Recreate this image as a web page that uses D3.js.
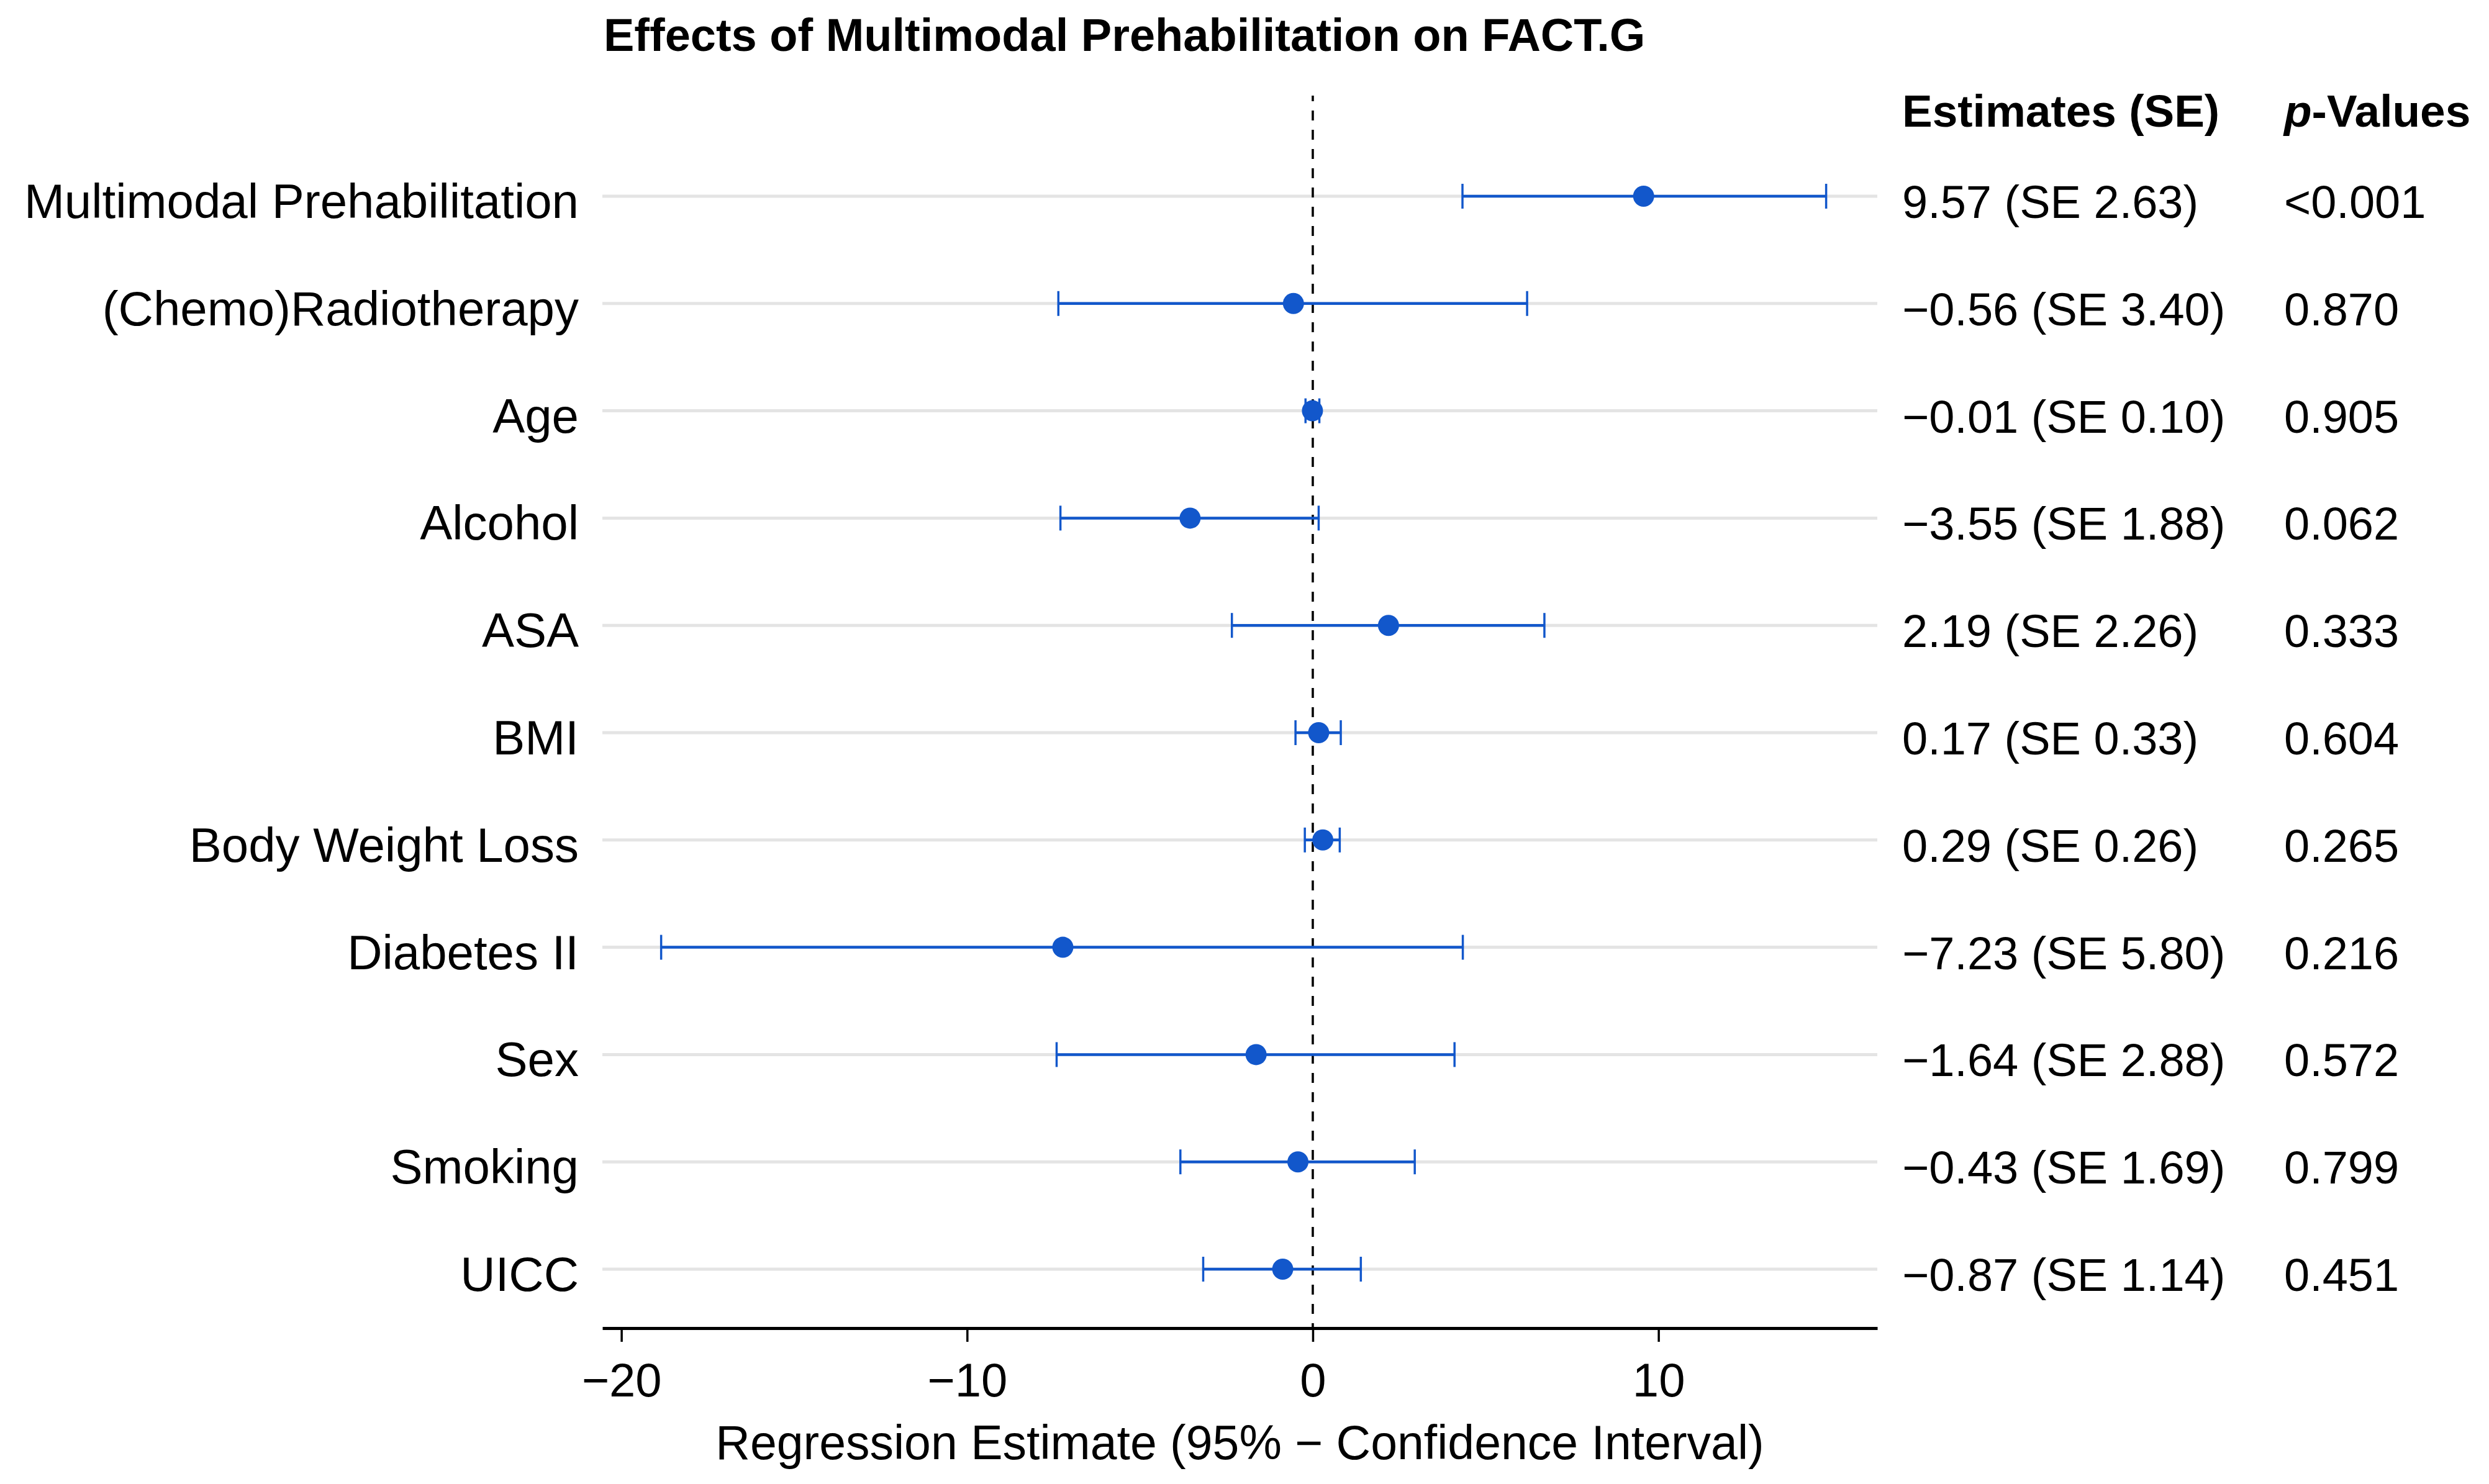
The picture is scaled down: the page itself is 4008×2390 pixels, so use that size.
<!DOCTYPE html>
<html>
<head>
<meta charset="utf-8">
<script src="https://cdn.jsdelivr.net/npm/d3@7"></script>
<style>
  html, body { margin: 0; padding: 0; background: #ffffff; }
  svg { display: block; }
  text { font-family: "Liberation Sans", Arial, sans-serif; fill: #000; }
</style>
</head>
<body>
<svg id="chart" width="4008" height="2390"></svg>
<script>
// ---------- data ----------
const categories = ["Multimodal Prehabilitation", "(Chemo)Radiotherapy", "Age", "Alcohol", "ASA", "BMI",
  "Body Weight Loss", "Diabetes II", "Sex", "Smoking", "UICC"];
const estimates = [9.57, -0.56, -0.01, -3.55, 2.19, 0.17, 0.29, -7.23, -1.64, -0.43, -0.87];
const standardErrors = [2.63, 3.40, 0.10, 1.88, 2.26, 0.33, 0.26, 5.80, 2.88, 1.69, 1.14];
const ciLower = [4.33, -7.36, -0.21, -7.30, -2.34, -0.50, -0.23, -18.85, -7.41, -3.83, -3.17];
const ciUpper = [14.85, 6.20, 0.19, 0.17, 6.70, 0.81, 0.78, 4.34, 4.10, 2.95, 1.39];
const pValues = ["<0.001", "0.870", "0.905", "0.062", "0.333", "0.604", "0.265", "0.216", "0.572", "0.799", "0.451"];
const xTicks = [-20, -10, 0, 10];
const xDomain = [-20.55, 16.33];

const titleText = "Effects of Multimodal Prehabilitation on FACT.G";
const xAxisTitle = "Regression Estimate (95% \u2212 Confidence Interval)";

// ---------- layout ----------
const svg = d3.select("#chart");
const blue = "#1257cb";
const plotLeft = 970, plotRight = 3023;
const rowTop = 316, rowBottom = 2044;
const axisY = 2139;
const estX = 3063, pX = 3678;

const x = d3.scaleLinear().domain(xDomain).range([plotLeft, plotRight]);
const y = d3.scalePoint().domain(categories).range([rowTop, rowBottom]);

const rows = categories.map((c, i) => ({
  cat: c, est: estimates[i], se: standardErrors[i], lo: ciLower[i], hi: ciUpper[i], p: pValues[i]
}));

const fmtNum = v => (v < 0 ? "\u2212" : "") + Math.abs(v).toFixed(2);

// title
svg.append("text")
  .attr("x", 972).attr("y", 82)
  .attr("font-size", 74).attr("font-weight", "bold")
  .text(titleText);

// gridlines
svg.append("g").selectAll("line").data(rows).join("line")
  .attr("x1", plotLeft).attr("x2", plotRight)
  .attr("y1", d => y(d.cat)).attr("y2", d => y(d.cat))
  .attr("stroke", "#e4e4e4").attr("stroke-width", 5);

// zero reference line
svg.append("line")
  .attr("x1", x(0)).attr("x2", x(0))
  .attr("y1", 154).attr("y2", axisY)
  .attr("stroke", "#000").attr("stroke-width", 3.6)
  .attr("stroke-dasharray", "16 15")
  .attr("stroke-dashoffset", 7);

// error bars
const eb = svg.append("g");
eb.selectAll("line.ci").data(rows).join("line").attr("class", "ci")
  .attr("x1", d => x(d.lo)).attr("x2", d => x(d.hi))
  .attr("y1", d => y(d.cat)).attr("y2", d => y(d.cat))
  .attr("stroke", blue).attr("stroke-width", 4.5);
eb.selectAll("line.capl").data(rows).join("line").attr("class", "capl")
  .attr("x1", d => x(d.lo)).attr("x2", d => x(d.lo))
  .attr("y1", d => y(d.cat) - 20).attr("y2", d => y(d.cat) + 20)
  .attr("stroke", blue).attr("stroke-width", 3.5);
eb.selectAll("line.capr").data(rows).join("line").attr("class", "capr")
  .attr("x1", d => x(d.hi)).attr("x2", d => x(d.hi))
  .attr("y1", d => y(d.cat) - 20).attr("y2", d => y(d.cat) + 20)
  .attr("stroke", blue).attr("stroke-width", 3.5);
eb.selectAll("circle").data(rows).join("circle")
  .attr("cx", d => x(d.est)).attr("cy", d => y(d.cat))
  .attr("r", 17).attr("fill", blue);

// x axis
const axis = d3.axisBottom(x).tickValues(xTicks).tickSize(22).tickSizeOuter(0).tickPadding(34);
const gAxis = svg.append("g").attr("transform", `translate(0,${axisY})`).call(axis);
gAxis.select(".domain").attr("stroke", "#000").attr("stroke-width", 5);
gAxis.selectAll(".tick line").attr("stroke", "#000").attr("stroke-width", 3.5);
gAxis.selectAll(".tick text")
  .attr("font-size", 76).attr("font-family", "Liberation Sans, Arial, sans-serif").attr("fill", "#000");

svg.append("text")
  .attr("x", (plotLeft + plotRight) / 2).attr("y", 2350)
  .attr("text-anchor", "middle").attr("font-size", 77)
  .text(xAxisTitle);

// row labels
svg.append("g").selectAll("text").data(rows).join("text")
  .attr("x", 932).attr("y", d => y(d.cat) + 35)
  .attr("text-anchor", "end").attr("font-size", 78)
  .text(d => d.cat);

// column headers
svg.append("text")
  .attr("x", estX).attr("y", 204)
  .attr("font-size", 73).attr("font-weight", "bold")
  .text("Estimates (SE)");
const ph = svg.append("text")
  .attr("x", pX).attr("y", 204)
  .attr("font-size", 73).attr("font-weight", "bold");
ph.append("tspan").attr("font-style", "italic").text("p");
ph.append("tspan").text("-Values");

// estimates and p-values
svg.append("g").selectAll("text").data(rows).join("text")
  .attr("x", estX).attr("y", d => y(d.cat) + 35)
  .attr("font-size", 74)
  .text(d => `${fmtNum(d.est)} (SE ${d.se.toFixed(2)})`);
svg.append("g").selectAll("text").data(rows).join("text")
  .attr("x", pX).attr("y", d => y(d.cat) + 35)
  .attr("font-size", 74)
  .text(d => d.p);
</script>
</body>
</html>
